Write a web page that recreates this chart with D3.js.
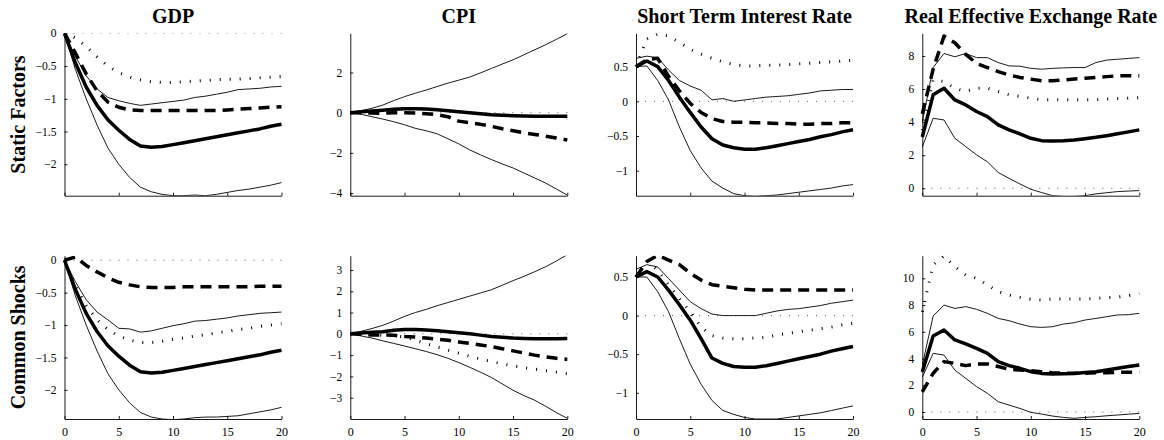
<!DOCTYPE html>
<html>
<head>
<meta charset="utf-8">
<script src="https://cdn.jsdelivr.net/npm/d3@7"></script>
<style>
  body { margin: 0; background: #fff; }
  text { font-family: "Liberation Serif", "DejaVu Serif", serif; }
</style>
</head>
<body>
<svg id="chart"></svg>
<script>
// horizons (quarters after the shock)
const horizon = [0,1,2,3,4,5,6,7,8,9,10,11,12,13,14,15,16,17,18,19,20];
const xTicks = [0, 5, 10, 15, 20];
const columnTitles = ["GDP", "CPI", "Short Term Interest Rate", "Real Effective Exchange Rate"];
const rowTitles = ["Static Factors", "Common Shocks"];

// ---- Static factors ----
const gdpSF_med  = [0,-0.45,-0.82,-1.1,-1.32,-1.48,-1.62,-1.72,-1.74,-1.73,-1.7,-1.67,-1.64,-1.61,-1.58,-1.55,-1.52,-1.49,-1.46,-1.42,-1.39];
const gdpSF_hi   = [0,-0.35,-0.65,-0.85,-0.98,-1.03,-1.07,-1.1,-1.08,-1.06,-1.04,-1.02,-0.98,-0.96,-0.93,-0.9,-0.86,-0.85,-0.84,-0.82,-0.81];
const gdpSF_lo   = [0,-0.55,-1.0,-1.4,-1.75,-2.0,-2.2,-2.35,-2.42,-2.46,-2.48,-2.48,-2.47,-2.48,-2.46,-2.43,-2.4,-2.38,-2.35,-2.32,-2.28];
const gdpSF_dash = [0,-0.3,-0.62,-0.88,-1.05,-1.13,-1.17,-1.18,-1.18,-1.18,-1.18,-1.18,-1.18,-1.18,-1.18,-1.17,-1.16,-1.15,-1.14,-1.13,-1.12];
const gdpSF_dot  = [0,-0.07,-0.2,-0.36,-0.5,-0.6,-0.67,-0.71,-0.74,-0.75,-0.75,-0.74,-0.73,-0.72,-0.71,-0.7,-0.7,-0.69,-0.68,-0.67,-0.66];

const cpiSF_med  = [0,0.05,0.08,0.12,0.17,0.2,0.2,0.18,0.15,0.1,0.05,0,-0.05,-0.1,-0.13,-0.15,-0.17,-0.18,-0.18,-0.18,-0.18];
const cpiSF_hi   = [0,0.1,0.22,0.38,0.6,0.8,0.97,1.13,1.3,1.47,1.62,1.77,1.98,2.2,2.42,2.63,2.88,3.13,3.38,3.65,3.93];
const cpiSF_lo   = [0,-0.08,-0.2,-0.32,-0.45,-0.6,-0.78,-0.9,-1.05,-1.3,-1.55,-1.85,-2.1,-2.33,-2.55,-2.75,-3.0,-3.25,-3.5,-3.8,-4.1];
const cpiSF_dash = [0,0,-0.02,-0.03,0,0,-0.02,-0.05,-0.1,-0.2,-0.42,-0.5,-0.58,-0.68,-0.8,-0.9,-1.0,-1.08,-1.17,-1.26,-1.36];
const cpiSF_dot  = [];

const irSF_med  = [0.5,0.58,0.5,0.3,0.06,-0.16,-0.37,-0.54,-0.63,-0.67,-0.69,-0.69,-0.67,-0.64,-0.61,-0.58,-0.55,-0.51,-0.48,-0.44,-0.41];
const irSF_hi   = [0.62,0.65,0.63,0.45,0.3,0.22,0.16,0.02,0.04,0.0,0.02,0.04,0.06,0.07,0.08,0.1,0.12,0.15,0.16,0.17,0.17];
const irSF_lo   = [0.5,0.51,0.3,0.02,-0.37,-0.71,-0.96,-1.15,-1.25,-1.33,-1.36,-1.37,-1.36,-1.35,-1.33,-1.31,-1.29,-1.27,-1.25,-1.22,-1.2];
const irSF_dash = [0.5,0.6,0.62,0.36,0.15,-0.03,-0.16,-0.25,-0.29,-0.3,-0.3,-0.31,-0.31,-0.32,-0.32,-0.33,-0.33,-0.32,-0.32,-0.31,-0.31];
const irSF_dot  = [0.5,0.9,0.97,0.94,0.85,0.75,0.68,0.62,0.57,0.53,0.51,0.51,0.52,0.52,0.53,0.54,0.55,0.56,0.57,0.58,0.59];

const reerSF_med  = [3.1,5.65,6.05,5.34,5.04,4.64,4.33,3.83,3.53,3.29,3.02,2.88,2.86,2.88,2.92,3.0,3.08,3.18,3.29,3.41,3.53];
const reerSF_hi   = [4.0,7.3,8.15,7.95,8.15,7.9,7.9,7.6,7.4,7.38,7.25,7.2,7.25,7.28,7.3,7.3,7.6,7.75,7.8,7.85,7.9];
const reerSF_lo   = [2.5,4.23,4.13,3.02,2.52,2.02,1.6,0.95,0.6,0.26,-0.06,-0.26,-0.45,-0.5,-0.5,-0.45,-0.34,-0.27,-0.2,-0.17,-0.14];
const reerSF_dash = [4.5,7.2,9.2,8.8,8.1,7.55,7.3,7.05,6.85,6.7,6.6,6.5,6.5,6.55,6.6,6.65,6.7,6.75,6.8,6.8,6.8];
const reerSF_dot  = [3.5,6.55,6.45,6.05,5.85,6.05,6.05,5.85,5.65,5.55,5.45,5.35,5.35,5.35,5.35,5.35,5.35,5.4,5.42,5.45,5.48];

// ---- Common shocks ----
const gdpCS_med  = [0,-0.45,-0.82,-1.1,-1.32,-1.48,-1.62,-1.72,-1.74,-1.73,-1.7,-1.67,-1.64,-1.61,-1.58,-1.55,-1.52,-1.49,-1.46,-1.42,-1.39];
const gdpCS_hi   = [0,-0.33,-0.61,-0.8,-0.92,-1.05,-1.06,-1.11,-1.09,-1.05,-1.01,-0.98,-0.94,-0.93,-0.91,-0.89,-0.86,-0.84,-0.82,-0.81,-0.8];
const gdpCS_lo   = [0,-0.55,-1.0,-1.4,-1.75,-2.0,-2.2,-2.35,-2.42,-2.45,-2.46,-2.45,-2.43,-2.42,-2.42,-2.41,-2.4,-2.37,-2.34,-2.31,-2.27];
const gdpCS_dash = [0,0.05,-0.08,-0.18,-0.27,-0.34,-0.38,-0.41,-0.42,-0.42,-0.42,-0.41,-0.41,-0.41,-0.41,-0.41,-0.41,-0.41,-0.4,-0.4,-0.4];
const gdpCS_dot  = [0,-0.4,-0.7,-0.92,-1.07,-1.17,-1.23,-1.27,-1.27,-1.25,-1.22,-1.2,-1.17,-1.15,-1.12,-1.1,-1.07,-1.05,-1.02,-1.0,-0.98];

const cpiCS_med  = [0,0.04,0.07,0.1,0.17,0.2,0.2,0.18,0.15,0.1,0.05,0,-0.06,-0.12,-0.16,-0.2,-0.22,-0.23,-0.23,-0.23,-0.22];
const cpiCS_hi   = [0,0.12,0.25,0.4,0.6,0.82,1.0,1.15,1.32,1.47,1.62,1.77,1.92,2.07,2.28,2.5,2.7,2.92,3.15,3.42,3.72];
const cpiCS_lo   = [0,-0.1,-0.2,-0.33,-0.45,-0.57,-0.7,-0.83,-0.98,-1.15,-1.35,-1.57,-1.8,-2.05,-2.35,-2.65,-2.9,-3.12,-3.4,-3.7,-3.97];
const cpiCS_dash = [0,-0.02,-0.05,-0.05,-0.07,-0.12,-0.15,-0.2,-0.25,-0.3,-0.38,-0.45,-0.52,-0.6,-0.7,-0.8,-0.9,-1.0,-1.08,-1.15,-1.2];
const cpiCS_dot  = [0,-0.02,-0.05,-0.07,-0.08,-0.15,-0.3,-0.46,-0.62,-0.77,-0.91,-1.05,-1.18,-1.3,-1.41,-1.5,-1.59,-1.66,-1.73,-1.8,-1.88];

const irCS_med  = [0.5,0.57,0.5,0.33,0.14,-0.06,-0.3,-0.55,-0.62,-0.66,-0.67,-0.67,-0.65,-0.62,-0.59,-0.56,-0.53,-0.5,-0.46,-0.43,-0.4];
const irCS_hi   = [0.6,0.66,0.63,0.48,0.33,0.18,0.09,0.02,0.0,0.0,0.0,0.0,0.03,0.06,0.08,0.09,0.11,0.13,0.16,0.18,0.2];
const irCS_lo   = [0.5,0.5,0.31,0.05,-0.3,-0.63,-0.89,-1.1,-1.23,-1.28,-1.32,-1.34,-1.34,-1.34,-1.32,-1.3,-1.28,-1.26,-1.23,-1.2,-1.17];
const irCS_dash = [0.5,0.7,0.78,0.72,0.66,0.55,0.46,0.4,0.38,0.36,0.34,0.33,0.33,0.33,0.33,0.33,0.33,0.33,0.33,0.33,0.33];
const irCS_dot  = [0.5,0.71,0.59,0.4,0.22,0.05,-0.15,-0.26,-0.29,-0.3,-0.3,-0.29,-0.28,-0.25,-0.23,-0.21,-0.19,-0.17,-0.15,-0.12,-0.1];

const reerCS_med  = [3.0,5.69,6.13,5.39,5.09,4.76,4.39,3.77,3.47,3.27,3.02,2.89,2.84,2.86,2.89,2.95,3.02,3.14,3.27,3.4,3.52];
const reerCS_hi   = [3.5,7.18,8.0,7.75,7.88,7.68,7.38,7.0,6.83,6.58,6.38,6.33,6.38,6.58,6.68,6.88,7.0,7.13,7.26,7.28,7.38];
const reerCS_lo   = [2.6,4.39,4.26,3.14,2.52,1.9,1.4,0.77,0.52,0.27,-0.02,-0.15,-0.3,-0.4,-0.47,-0.4,-0.35,-0.28,-0.22,-0.16,-0.1];
const reerCS_dash = [1.5,2.9,3.77,3.64,3.47,3.6,3.6,3.4,3.2,3.14,3.09,3.02,2.94,2.9,2.9,2.9,2.94,2.94,2.97,2.97,2.97];
const reerCS_dot  = [7.5,11.0,11.67,10.87,10.25,10.0,9.5,9.0,8.75,8.58,8.43,8.38,8.45,8.45,8.45,8.45,8.5,8.55,8.6,8.7,8.87];

// y-axis limits and tick values per panel
const yLimits = [[-2.48,0],[-4.13,3.95],[-1.36,0.98],[-0.45,9.37],
                 [-2.45,0.07],[-4.0,3.67],[-1.34,0.776],[-0.52,11.69]];
const yTicks = [[-2,-1.5,-1,-0.5,0],[-4,-2,0,2],[-1,-0.5,0,0.5],[0,2,4,6,8],
                [-2,-1.5,-1,-0.5,0],[-3,-2,-1,0,1,2,3],[-1,-0.5,0,0.5],[0,2,4,6,8,10]];

const series = [
  [gdpSF_med, gdpSF_hi, gdpSF_lo, gdpSF_dash, gdpSF_dot],
  [cpiSF_med, cpiSF_hi, cpiSF_lo, cpiSF_dash, cpiSF_dot],
  [irSF_med, irSF_hi, irSF_lo, irSF_dash, irSF_dot],
  [reerSF_med, reerSF_hi, reerSF_lo, reerSF_dash, reerSF_dot],
  [gdpCS_med, gdpCS_hi, gdpCS_lo, gdpCS_dash, gdpCS_dot],
  [cpiCS_med, cpiCS_hi, cpiCS_lo, cpiCS_dash, cpiCS_dot],
  [irCS_med, irCS_hi, irCS_lo, irCS_dash, irCS_dot],
  [reerCS_med, reerCS_hi, reerCS_lo, reerCS_dash, reerCS_dot]
];

const width = 1164, height = 440;
const colLeft = [64.5, 350.3, 636, 922.3], panelW = 217;
const rowTop = [33.3, 255.7], rowBottom = [195.7, 419];

const svg = d3.select("#chart").attr("width", width).attr("height", height);

//column titles
svg.selectAll(".coltitle")
  .data(columnTitles)
  .enter().append("text")
  .attr("x", (d, i) => colLeft[i] + panelW / 2)
  .attr("y", 22.7)
  .attr("text-anchor", "middle")
  .style("font-size", "20px").style("font-weight", "bold")
  .text(d => d);

//row titles (rotated)
rowTitles.forEach((t, r) => {
  const cy = (rowTop[r] + rowBottom[r]) / 2;
  svg.append("text")
    .attr("transform", `translate(25,${cy}) rotate(-90)`)
    .attr("text-anchor", "middle")
    .style("font-size", "20px").style("font-weight", "bold")
    .text(t);
});

// line styles: median, upper, lower, dashed, dotted
const styles = [
  { w: 3.5, dash: null },
  { w: 0.9, dash: null },
  { w: 0.9, dash: null },
  { w: 3.5, dash: "11,7" },
  { w: 3, dash: "1,9" }
];
const drawOrder = [1, 2, 4, 3, 0];

series.forEach((s, p) => {
  const r = Math.floor(p / 4), c = p % 4;
  const x = d3.scaleLinear().domain([0, 20]).range([colLeft[c], colLeft[c] + panelW]);
  const y = d3.scaleLinear().domain(yLimits[p]).range([rowBottom[r], rowTop[r]]);

  const g = svg.append("g");
  const clipId = "clip" + p;
  g.append("clipPath").attr("id", clipId)
    .append("rect")
    .attr("x", x(0) - 2).attr("y", y.range()[1])
    .attr("width", panelW + 4).attr("height", y.range()[0] - y.range()[1]);

  const plot = g.append("g").attr("clip-path", `url(#${clipId})`);

  //zero line
  plot.append("line")
    .attr("x1", x(0)).attr("x2", x(20))
    .attr("y1", y(0)).attr("y2", y(0))
    .attr("stroke", "#333").attr("stroke-width", 0.8)
    .attr("stroke-dasharray", "1,8");

  const line = d3.line()
    .x((d, i) => x(horizon[i]))
    .y(d => y(d));

  drawOrder.forEach(k => {
    if (!s[k].length) return;
    plot.append("path")
      .attr("d", line(s[k]))
      .attr("fill", "none")
      .attr("stroke", "#000")
      .attr("stroke-width", styles[k].w)
      .attr("stroke-linejoin", "round")
      .attr("stroke-dasharray", styles[k].dash);
  });

  //axes
  const yAxis = d3.axisLeft(y).tickValues(yTicks[p]).tickSize(-3).tickSizeOuter(0)
    .tickPadding(8).tickFormat(d3.format("~g"));
  const xAxis = d3.axisBottom(x).tickValues(xTicks).tickSize(-3).tickSizeOuter(0)
    .tickPadding(8).tickFormat(r === 1 ? d3.format("d") : "");

  g.append("g").attr("class", "yax").attr("transform", `translate(${x(0)},0)`).call(yAxis);
  g.append("g").attr("class", "xax").attr("transform", `translate(0,${y.range()[0]})`).call(xAxis);
});

svg.selectAll(".tick text").style("font-family", '"Liberation Serif", serif').attr("fill", "#000");
svg.selectAll(".yax .tick text").style("font-size", "11.5px");
svg.selectAll(".xax .tick text").style("font-size", "12px");
svg.selectAll(".domain, .tick line").attr("stroke", "#000").attr("stroke-width", 0.9);
</script>
</body>
</html>
